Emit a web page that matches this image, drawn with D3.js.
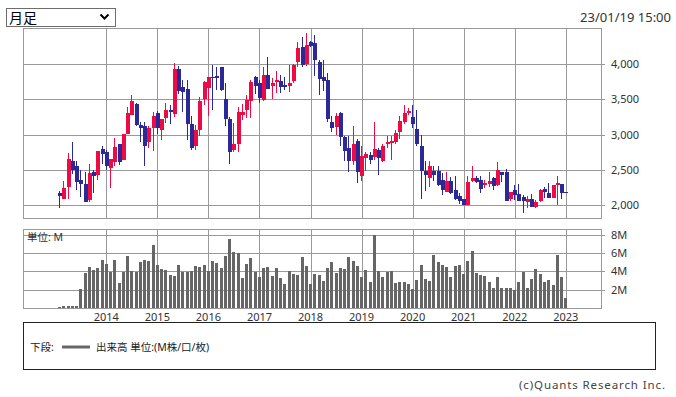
<!DOCTYPE html>
<html>
<head>
  <meta charset="utf-8">
  <title>月足</title>
  <script src="https://cdn.jsdelivr.net/npm/d3@7"></script>
  <style>
    body {
      margin: 0;
      background: #fff;
    }
    text {
      font-family: "Noto Sans", "Noto Sans CJK JP", sans-serif;
    }
  </style>
</head>
<body>
<svg id="chart"></svg>
<script>
// monthly bars, Feb 2013 .. Jan 2023
var months = [
  "2013-02","2013-03","2013-04","2013-05","2013-06","2013-07","2013-08","2013-09","2013-10","2013-11","2013-12",
  "2014-01","2014-02","2014-03","2014-04","2014-05","2014-06","2014-07","2014-08","2014-09","2014-10","2014-11","2014-12",
  "2015-01","2015-02","2015-03","2015-04","2015-05","2015-06","2015-07","2015-08","2015-09","2015-10","2015-11","2015-12",
  "2016-01","2016-02","2016-03","2016-04","2016-05","2016-06","2016-07","2016-08","2016-09","2016-10","2016-11","2016-12",
  "2017-01","2017-02","2017-03","2017-04","2017-05","2017-06","2017-07","2017-08","2017-09","2017-10","2017-11","2017-12",
  "2018-01","2018-02","2018-03","2018-04","2018-05","2018-06","2018-07","2018-08","2018-09","2018-10","2018-11","2018-12",
  "2019-01","2019-02","2019-03","2019-04","2019-05","2019-06","2019-07","2019-08","2019-09","2019-10","2019-11","2019-12",
  "2020-01","2020-02","2020-03","2020-04","2020-05","2020-06","2020-07","2020-08","2020-09","2020-10","2020-11","2020-12",
  "2021-01","2021-02","2021-03","2021-04","2021-05","2021-06","2021-07","2021-08","2021-09","2021-10","2021-11","2021-12",
  "2022-01","2022-02","2022-03","2022-04","2022-05","2022-06","2022-07","2022-08","2022-09","2022-10","2022-11","2022-12",
  "2023-01"
];

var open = [
  2180,2095,2260,2625,2560,2360,2305,2075,2465,2435,2800,
  2760,2530,2615,2865,2645,3015,3280,3430,3130,3120,2890,3100,
  3300,3070,3230,3345,3290,3925,3670,3640,3155,2835,3060,3500,
  3660,3820,3825,3955,3505,3225,2785,2865,3280,3355,3470,3810,
  3725,3490,3840,3690,3745,3765,3700,3690,3755,4030,4235,4000,
  4315,4295,4030,3810,3780,3185,3110,3300,2965,2815,2625,2910,
  2415,2665,2710,2690,2785,2625,2880,2880,2890,3035,3175,3300,
  3250,3080,2845,2485,2380,2485,2485,2360,2190,2340,2210,2135,
  2085,2010,2350,2390,2360,2285,2295,2390,2285,2475,2475,2085,
  2220,2160,2115,2045,2085,1980,2055,2230,2180,2105,2295,2305,
  2190
];
var high = [
  2200,2340,2740,2900,2625,2495,2475,2580,2495,2775,2845,
  2785,2660,2955,2870,3015,3385,3555,3450,3185,3185,3120,3315,
  3335,3225,3450,3420,4010,3970,3775,3775,3270,3140,3535,3765,
  3810,3980,3955,3955,3735,3250,3165,3385,3440,3555,3780,3830,
  3775,3960,4095,3800,3895,3840,3820,3990,4000,4315,4380,4445,
  4320,4415,4050,4050,3875,3270,3310,3320,2975,2975,3120,2940,
  2845,2760,2760,3185,2805,2865,2985,2975,3070,3260,3420,3375,
  3415,3345,2995,2625,2625,2560,2550,2455,2465,2400,2415,2180,
  2085,2410,2550,2415,2410,2360,2465,2400,2615,2475,2510,2190,
  2285,2295,2140,2135,2160,2075,2230,2265,2320,2285,2410,2305,
  2190
];
var low = [
  1960,2095,2090,2445,2210,2115,2045,2045,2180,2360,2590,
  2495,2245,2550,2570,2645,3005,3280,3120,2890,2550,2805,2775,
  3005,2930,3165,3145,3250,3575,3325,2930,2785,2785,2985,3415,
  3260,3345,3630,3620,3120,2590,2760,2760,3205,3240,3240,3575,
  3450,3480,3640,3500,3595,3595,3630,3610,3735,3960,3960,3970,
  4240,3830,3565,3620,3185,3035,2995,2835,2625,2465,2570,2315,
  2350,2485,2590,2645,2435,2615,2815,2635,2870,2940,3145,3280,
  3100,2845,2095,2200,2255,2350,2275,2150,2190,2160,2075,2020,
  2010,2010,2330,2315,2170,2245,2265,2210,2275,2330,2065,2065,
  2075,2055,1885,1960,1980,1960,2045,2105,2105,2105,2000,2085,
  2180
];
var close = [
  2130,2245,2655,2495,2330,2295,2045,2455,2415,2775,2720,
  2550,2660,2830,2615,3015,3300,3470,3130,3090,2835,3100,3265,
  3100,3225,3355,3320,3925,3620,3600,3155,2805,3070,3470,3740,
  3810,3800,3815,3630,3215,2760,2870,3320,3320,3490,3745,3690,
  3515,3850,3650,3735,3775,3670,3670,3735,3990,4230,3990,4265,
  4255,4050,3790,3765,3225,3090,3270,2965,2770,2625,2870,2465,
  2700,2720,2645,2795,2675,2845,2890,2910,3025,3195,3310,3335,
  3145,2865,2485,2435,2560,2435,2285,2210,2340,2180,2095,2065,
  2010,2330,2380,2330,2235,2315,2350,2275,2500,2435,2065,2190,
  2140,2065,2065,2085,1980,2045,2210,2190,2105,2285,2310,2180,
  2180
];
// volume in millions
var volume = [
  0.07,0.25,0.25,0.25,0.25,2.1,3.85,4.5,4.17,4.38,5.25,
  4.82,3.88,5.25,2.75,3.95,5.69,4.06,3.95,5.04,5.25,5.14,6.88,
  4.71,4.28,4.17,3.62,3.51,4.71,3.88,3.88,4.06,4.6,4.5,4.71,
  4.06,5.14,4.93,4.38,5.69,7.54,6.12,6.01,3.3,4.82,5.47,3.95,
  3.41,4.38,4.5,3.51,4.38,3.3,2.64,4.06,3.73,3.62,5.58,4.6,
  2.64,3.73,3.62,2.97,4.38,5.04,3.84,4.38,4.28,5.58,5.14,4.6,
  3.41,4.17,2.86,8.0,4.06,3.41,3.88,4.06,2.75,2.86,2.86,2.64,
  2.1,3.08,4.71,3.19,2.97,5.8,5.04,4.71,4.5,3.41,4.6,4.71,
  3.73,5.14,6.23,3.84,3.62,3.51,2.86,2.21,3.41,2.21,2.21,2.21,
  1.99,2.86,3.88,2.21,3.19,4.28,3.73,2.86,3.08,2.54,5.8,3.41,
  1.12
];

var yearTicks = ["2014","2015","2016","2017","2018","2019","2020","2021","2022","2023"];
var priceTicks = [2000, 2500, 3000, 3500, 4000];
var volumeTicks = [2, 4, 6, 8];

var W = 676, H = 397;
var left = 23, right = 601;
var pTop = 28, pBot = 218;
var vTop = 229, vBot = 308;

var upColor = "#ee0a44", downColor = "#2b2898";
var gridColor = "#999";

var svg = d3.select("#chart")
  .attr("width", W)
  .attr("height", H);

var x = d3.scaleBand()
  .domain(months)
  .range([57.4, 567.9]);
var cx = function(m) { return x(m) + x.bandwidth() / 2; };

var yP = d3.scaleLinear().domain([1820, 4510]).range([pBot, pTop]);
var yV = d3.scaleLinear().domain([0, 8.62]).range([vBot, vTop]);

function crisp(v) { return Math.round(v) + 0.5; }

// top bar: period selector + timestamp
var sel = svg.append("g");
sel.append("rect")
  .attr("x", 6.5).attr("y", 8.5)
  .attr("width", 109).attr("height", 18)
  .attr("fill", "#fff").attr("stroke", "#6d6d6d");
sel.append("text")
  .attr("x", 9).attr("y", 23)
  .attr("font-size", 14).attr("fill", "#000")
  .text("月足");
sel.append("path")
  .attr("d", "M100.5,14.5 L104.5,18.5 L108.5,14.5")
  .attr("fill", "none").attr("stroke", "#000").attr("stroke-width", 2);

svg.append("text")
  .attr("x", 671).attr("y", 22)
  .attr("text-anchor", "end")
  .attr("font-size", 13).attr("fill", "#333")
  .text("23/01/19 15:00");

// panels
function panel(top, bot, y, ticks, fmt) {
  var g = svg.append("g");
  g.selectAll("line.h").data(ticks).enter().append("line")
    .attr("class", "h")
    .attr("x1", left).attr("x2", right + 4)
    .attr("y1", function(d) { return crisp(y(d)); })
    .attr("y2", function(d) { return crisp(y(d)); })
    .attr("stroke", gridColor);
  g.selectAll("line.v").data(yearTicks).enter().append("line")
    .attr("class", "v")
    .attr("x1", function(d) { return crisp(cx(d + "-01")); })
    .attr("x2", function(d) { return crisp(cx(d + "-01")); })
    .attr("y1", top).attr("y2", bot)
    .attr("stroke", gridColor);
  g.append("rect")
    .attr("x", left + 0.5).attr("y", top + 0.5)
    .attr("width", right - left).attr("height", bot - top)
    .attr("fill", "none").attr("stroke", gridColor);
  g.selectAll("text").data(ticks).enter().append("text")
    .attr("x", 611)
    .attr("y", function(d) { return y(d) + 4; })
    .attr("font-size", 11).attr("fill", "#333")
    .text(fmt);
  return g;
}

panel(pTop, pBot, yP, priceTicks, d3.format(","));
panel(vTop, vBot, yV, volumeTicks, function(d) { return d + "M"; });

// candles
var idx = d3.range(months.length);
var candles = svg.append("g").attr("shape-rendering", "crispEdges");
candles.selectAll("line").data(idx).enter().append("line")
  .attr("x1", function(i) { return Math.floor(cx(months[i])) + 0.5; })
  .attr("x2", function(i) { return Math.floor(cx(months[i])) + 0.5; })
  .attr("y1", function(i) { return yP(high[i]); })
  .attr("y2", function(i) { return yP(low[i]); })
  .attr("stroke", function(i) { return close[i] >= open[i] ? upColor : downColor; });
candles.selectAll("rect").data(idx).enter().append("rect")
  .attr("x", function(i) { return Math.floor(cx(months[i])) - 1.5; })
  .attr("width", 4)
  .attr("y", function(i) { return yP(Math.max(open[i], close[i])); })
  .attr("height", function(i) {
    return Math.max(1.5, Math.abs(yP(open[i]) - yP(close[i])));
  })
  .attr("fill", function(i) { return close[i] >= open[i] ? upColor : downColor; });

// volume bars
svg.append("g").attr("shape-rendering", "crispEdges")
  .selectAll("rect").data(idx).enter().append("rect")
  .attr("x", function(i) { return Math.floor(cx(months[i])) - 1; })
  .attr("width", 3)
  .attr("y", function(i) { return yV(volume[i]); })
  .attr("height", function(i) { return yV(0) - yV(volume[i]); })
  .attr("fill", "#666");

svg.append("text")
  .attr("x", 27).attr("y", 241)
  .attr("font-size", 10.5).attr("fill", "#333")
  .text("単位: M");

// year labels
svg.selectAll("text.year").data(yearTicks).enter().append("text")
  .attr("class", "year")
  .attr("x", function(d) { return cx(d + "-01"); })
  .attr("y", 321)
  .attr("text-anchor", "middle")
  .attr("font-size", 11).attr("fill", "#333")
  .text(function(d) { return d; });

// legend box
svg.append("rect")
  .attr("x", 23.5).attr("y", 322.5)
  .attr("width", 632).attr("height", 47)
  .attr("fill", "none").attr("stroke", "#222");
svg.append("text")
  .attr("x", 30).attr("y", 351)
  .attr("font-size", 10.5).attr("fill", "#222")
  .text("下段:");
svg.append("line")
  .attr("x1", 62).attr("x2", 90)
  .attr("y1", 347).attr("y2", 347)
  .attr("stroke", "#666").attr("stroke-width", 3);
svg.append("text")
  .attr("x", 96).attr("y", 351)
  .attr("font-size", 10.5).attr("fill", "#222")
  .text("出来高 単位:(M株/口/枚)");

svg.append("text")
  .attr("x", 519).attr("y", 389)
  .attr("font-size", 11.5).attr("fill", "#444")
  .attr("textLength", 146).attr("lengthAdjust", "spacing")
  .text("(c)Quants Research Inc.");
</script>
</body>
</html>
